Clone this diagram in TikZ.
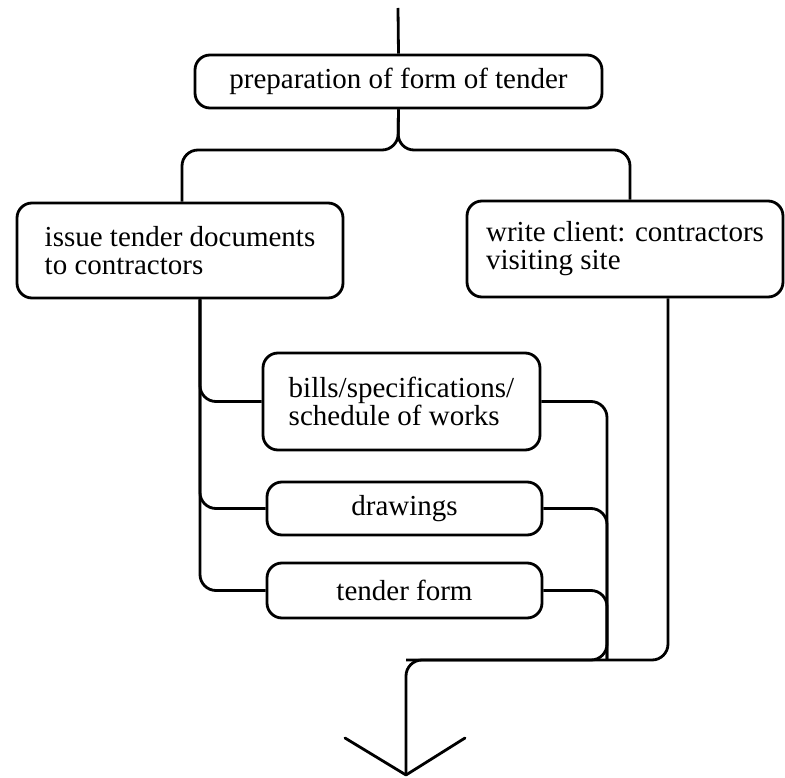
\documentclass[tikz,border=0pt]{standalone}
\usepackage{fontspec}
\setmainfont{Liberation Serif}
\begin{document}
\begin{tikzpicture}[x=1pt,y=-1pt,
  box/.style={draw, line width=2.8pt, rounded corners=15pt, inner sep=0pt,
    font=\fontsize{29}{28}\selectfont},
  link/.style={draw, line width=2.8pt, rounded corners=16pt, line join=round}]
\useasboundingbox (0,0) rectangle (785,778);

% boxes
\node[box, minimum width=407pt, minimum height=53pt] (prep) at (398.5,81.5)
  {preparation of form of tender};
\node[box, minimum width=326pt, minimum height=95pt, align=left]
  (issue) at (180,250.5) {issue tender documents\\to contractors};
\node[box, minimum width=316pt, minimum height=96pt, align=left]
  (write) at (625,249) {write client: contractors\\visiting site};
\node[box, minimum width=277pt, minimum height=97pt, align=left]
  (bills) at (401.5,401.5) {bills/specifications/\\schedule of works};
\node[box, minimum width=275pt, minimum height=53pt] (drw) at (404.5,508.5) {drawings};
\node[box, minimum width=275pt, minimum height=55pt] (tform) at (404.5,590.5) {tender form};

% junction points
\coordinate (src) at (398,8);
\coordinate (fork) at (398,150);
\coordinate (rtrunk) at (607,660);
\coordinate (merge) at (406,660);
\coordinate (tip) at (406,775);
\coordinate (al) at (345,738);
\coordinate (ar) at (465,738);

% incoming line and split
\draw[link] (src) -- (prep.north);
\draw[link] (prep.south) -- (fork) -| ([xshift=2pt]issue.north);
\draw[link] (prep.south) -- (fork) -| ([xshift=5pt]write.north);

% documents issued
\draw[link] ([xshift=20pt]issue.south) |- (bills.west);
\draw[link] ([xshift=20pt]issue.south) |- (drw.west);
\draw[link] ([xshift=20pt]issue.south) |- (tform.west);

% gathering lines
\draw[link] (bills.east) -| (rtrunk) -- (merge) -- (tip);
\draw[link] (drw.east) -| (rtrunk);
\draw[link] (tform.east) -| (rtrunk);
\draw[link] ([xshift=43pt]write.south) |- (merge);

% open arrow head
\draw[link, rounded corners=0pt, line cap=round] (al) -- (tip) -- (ar);
\end{tikzpicture}
\end{document}
